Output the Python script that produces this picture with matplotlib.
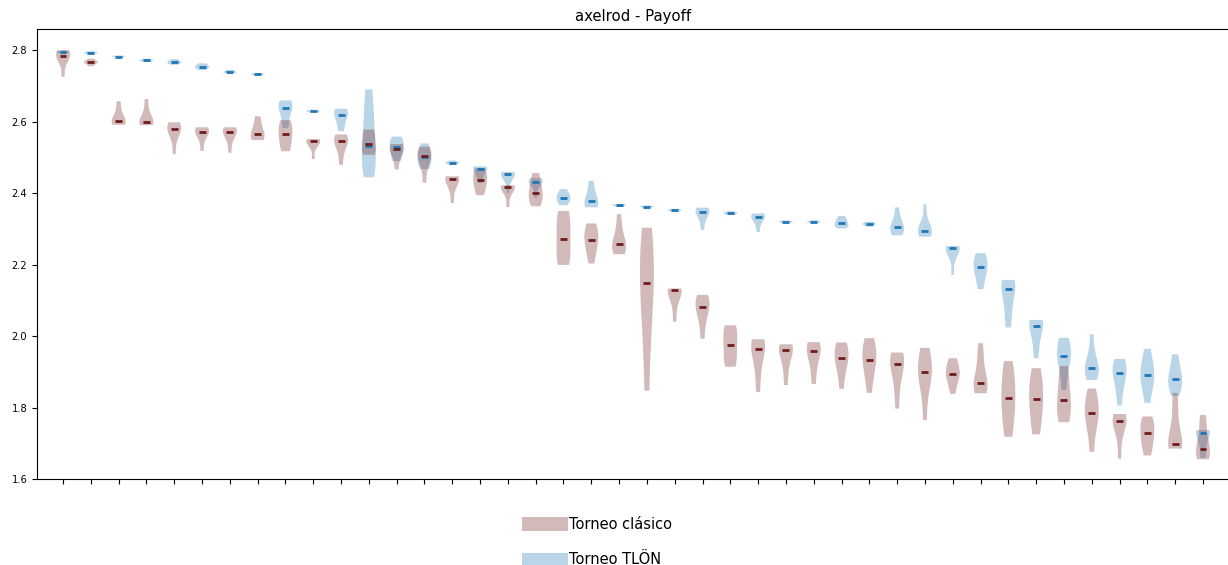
import matplotlib
matplotlib.use("Agg")
import matplotlib.pyplot as plt
import matplotlib.patches as mpatches

title = "axelrod - Payoff"
labels = ["Torneo clásico", "Torneo TLÖN"]
positions = list(range(1, 43))
yticks = [1.6, 1.8, 2.0, 2.2, 2.4, 2.6, 2.8]

classic_samples = [
    [2.725, 2.765, 2.778, 2.783, 2.79, 2.795, 2.8],
    [2.755, 2.762, 2.765, 2.766, 2.768, 2.771, 2.776],
    [2.591, 2.595, 2.599, 2.602, 2.61, 2.63, 2.657],
    [2.59, 2.594, 2.597, 2.6, 2.608, 2.63, 2.663],
    [2.509, 2.555, 2.572, 2.579, 2.585, 2.592, 2.598],
    [2.518, 2.55, 2.566, 2.572, 2.576, 2.58, 2.584],
    [2.513, 2.548, 2.565, 2.571, 2.576, 2.58, 2.584],
    [2.548, 2.553, 2.56, 2.566, 2.578, 2.595, 2.615],
    [2.517, 2.53, 2.55, 2.566, 2.578, 2.592, 2.604],
    [2.495, 2.53, 2.54, 2.545, 2.547, 2.549, 2.551],
    [2.479, 2.515, 2.535, 2.545, 2.551, 2.557, 2.564],
    [2.507, 2.512, 2.525, 2.537, 2.555, 2.57, 2.578],
    [2.466, 2.495, 2.512, 2.522, 2.528, 2.532, 2.537],
    [2.429, 2.475, 2.495, 2.503, 2.512, 2.52, 2.53],
    [2.372, 2.41, 2.43, 2.439, 2.442, 2.445, 2.447],
    [2.394, 2.41, 2.425, 2.436, 2.448, 2.46, 2.47],
    [2.361, 2.395, 2.41, 2.417, 2.419, 2.42, 2.422],
    [2.363, 2.375, 2.39, 2.4, 2.415, 2.435, 2.456],
    [2.199, 2.21, 2.24, 2.272, 2.305, 2.335, 2.35],
    [2.203, 2.235, 2.255, 2.27, 2.285, 2.3, 2.315],
    [2.229, 2.238, 2.248, 2.257, 2.268, 2.3, 2.341],
    [1.847, 2.0, 2.09, 2.147, 2.2, 2.25, 2.303],
    [2.04, 2.085, 2.115, 2.128, 2.13, 2.131, 2.133],
    [1.992, 2.04, 2.07, 2.082, 2.092, 2.105, 2.115],
    [1.914, 1.925, 1.95, 1.975, 2.0, 2.02, 2.03],
    [1.843, 1.9, 1.945, 1.965, 1.975, 1.985, 1.991],
    [1.863, 1.91, 1.945, 1.961, 1.968, 1.973, 1.977],
    [1.866, 1.91, 1.94, 1.958, 1.968, 1.977, 1.983],
    [1.852, 1.9, 1.925, 1.939, 1.955, 1.97, 1.982],
    [1.841, 1.89, 1.92, 1.933, 1.955, 1.975, 1.994],
    [1.797, 1.86, 1.905, 1.922, 1.935, 1.945, 1.954],
    [1.765, 1.85, 1.885, 1.899, 1.915, 1.94, 1.967],
    [1.838, 1.87, 1.885, 1.895, 1.905, 1.92, 1.938],
    [1.84, 1.85, 1.86, 1.869, 1.89, 1.94, 1.98],
    [1.718, 1.76, 1.8, 1.827, 1.86, 1.895, 1.93],
    [1.725, 1.76, 1.8, 1.824, 1.85, 1.88, 1.91],
    [1.759, 1.775, 1.8, 1.821, 1.85, 1.89, 1.916],
    [1.676, 1.74, 1.77, 1.785, 1.8, 1.825, 1.853],
    [1.657, 1.72, 1.75, 1.763, 1.77, 1.776, 1.782],
    [1.666, 1.69, 1.712, 1.728, 1.745, 1.762, 1.775],
    [1.685, 1.69, 1.695, 1.699, 1.73, 1.8, 1.841],
    [1.655, 1.665, 1.675, 1.683, 1.71, 1.75, 1.779],
]

tlon_samples = [
    [2.789, 2.791, 2.793, 2.794, 2.795, 2.796, 2.797],
    [2.79, 2.791, 2.792, 2.793, 2.794, 2.795, 2.797],
    [2.779, 2.781, 2.782, 2.782, 2.783, 2.784, 2.785],
    [2.767, 2.769, 2.770, 2.771, 2.772, 2.774, 2.776],
    [2.759, 2.762, 2.765, 2.766, 2.768, 2.771, 2.775],
    [2.744, 2.748, 2.751, 2.753, 2.756, 2.76, 2.763],
    [2.736, 2.737, 2.738, 2.739, 2.741, 2.743, 2.745],
    [2.730, 2.731, 2.732, 2.732, 2.733, 2.734, 2.735],
    [2.582, 2.6, 2.625, 2.637, 2.645, 2.652, 2.659],
    [2.626, 2.627, 2.628, 2.629, 2.630, 2.631, 2.633],
    [2.573, 2.59, 2.608, 2.618, 2.625, 2.63, 2.636],
    [2.444, 2.47, 2.5, 2.533, 2.58, 2.64, 2.69],
    [2.489, 2.5, 2.515, 2.528, 2.538, 2.548, 2.558],
    [2.467, 2.48, 2.49, 2.50, 2.51, 2.525, 2.539],
    [2.479, 2.482, 2.484, 2.485, 2.486, 2.488, 2.491],
    [2.428, 2.445, 2.458, 2.468, 2.471, 2.473, 2.475],
    [2.40, 2.435, 2.447, 2.453, 2.455, 2.457, 2.459],
    [2.386, 2.42, 2.428, 2.431, 2.435, 2.438, 2.442],
    [2.366, 2.375, 2.382, 2.387, 2.393, 2.40, 2.411],
    [2.36, 2.363, 2.37, 2.378, 2.39, 2.41, 2.434],
    [2.361, 2.363, 2.365, 2.366, 2.367, 2.368, 2.369],
    [2.355, 2.359, 2.361, 2.362, 2.363, 2.364, 2.365],
    [2.347, 2.349, 2.351, 2.352, 2.353, 2.354, 2.356],
    [2.297, 2.325, 2.34, 2.348, 2.352, 2.355, 2.359],
    [2.339, 2.341, 2.343, 2.344, 2.345, 2.347, 2.349],
    [2.291, 2.315, 2.328, 2.333, 2.337, 2.34, 2.343],
    [2.316, 2.318, 2.319, 2.32, 2.321, 2.322, 2.323],
    [2.317, 2.318, 2.319, 2.32, 2.321, 2.322, 2.324],
    [2.301, 2.306, 2.311, 2.315, 2.32, 2.328, 2.336],
    [2.306, 2.31, 2.312, 2.313, 2.315, 2.317, 2.32],
    [2.282, 2.29, 2.298, 2.304, 2.312, 2.33, 2.36],
    [2.278, 2.284, 2.29, 2.295, 2.302, 2.32, 2.369],
    [2.171, 2.22, 2.238, 2.246, 2.248, 2.25, 2.252],
    [2.131, 2.16, 2.18, 2.192, 2.205, 2.218, 2.232],
    [2.024, 2.06, 2.1, 2.131, 2.145, 2.152, 2.157],
    [1.938, 1.975, 2.005, 2.029, 2.036, 2.041, 2.045],
    [1.849, 1.9, 1.93, 1.944, 1.96, 1.978, 1.995],
    [1.877, 1.89, 1.903, 1.911, 1.922, 1.95, 2.005],
    [1.806, 1.85, 1.88, 1.897, 1.91, 1.922, 1.936],
    [1.813, 1.855, 1.878, 1.89, 1.905, 1.93, 1.964],
    [1.832, 1.855, 1.87, 1.879, 1.895, 1.92, 1.949],
    [1.659, 1.68, 1.71, 1.73, 1.732, 1.735, 1.737],
]

classic_color = "#6e1c1c"
tlon_color = "#1f77b4"

fig = plt.figure(figsize=(12.28, 5.65), dpi=100)
ax = fig.add_axes([37 / 1228, 86 / 565, 1192 / 1228, 450 / 565])

def draw(samples, color):
    parts = ax.violinplot(samples, positions=positions, widths=0.5,
                          showmedians=True, showextrema=False)
    for b in parts["bodies"]:
        b.set_facecolor(color)
        b.set_edgecolor("none")
        b.set_alpha(0.3)
    parts["cmedians"].set_color(color)
    parts["cmedians"].set_linewidth(2)

draw(tlon_samples, tlon_color)
draw(classic_samples, classic_color)

ax.set_xlim(0.064, 42.936)
ax.set_ylim(1.6, 2.859)
ax.set_xticks(positions)
ax.set_xticklabels([])
ax.set_yticks(yticks)
ax.set_yticklabels([f"{v:.1f}" for v in yticks])
ax.tick_params(axis="both", labelsize=7.1, length=3.5)
ax.set_title(title, fontsize=10.7)

handles = [mpatches.Patch(facecolor=classic_color, alpha=0.3, edgecolor="none"),
           mpatches.Patch(facecolor=tlon_color, alpha=0.3, edgecolor="none")]
fig.legend(handles, labels, loc="upper left", bbox_to_anchor=(522 / 1228, 1 - 517 / 565),
           frameon=False, fontsize=10.5, handlelength=3.15, handleheight=1.0,
           handletextpad=0.1, labelspacing=1.4, borderpad=0, borderaxespad=0)

fig.savefig("out.png", dpi=100)
